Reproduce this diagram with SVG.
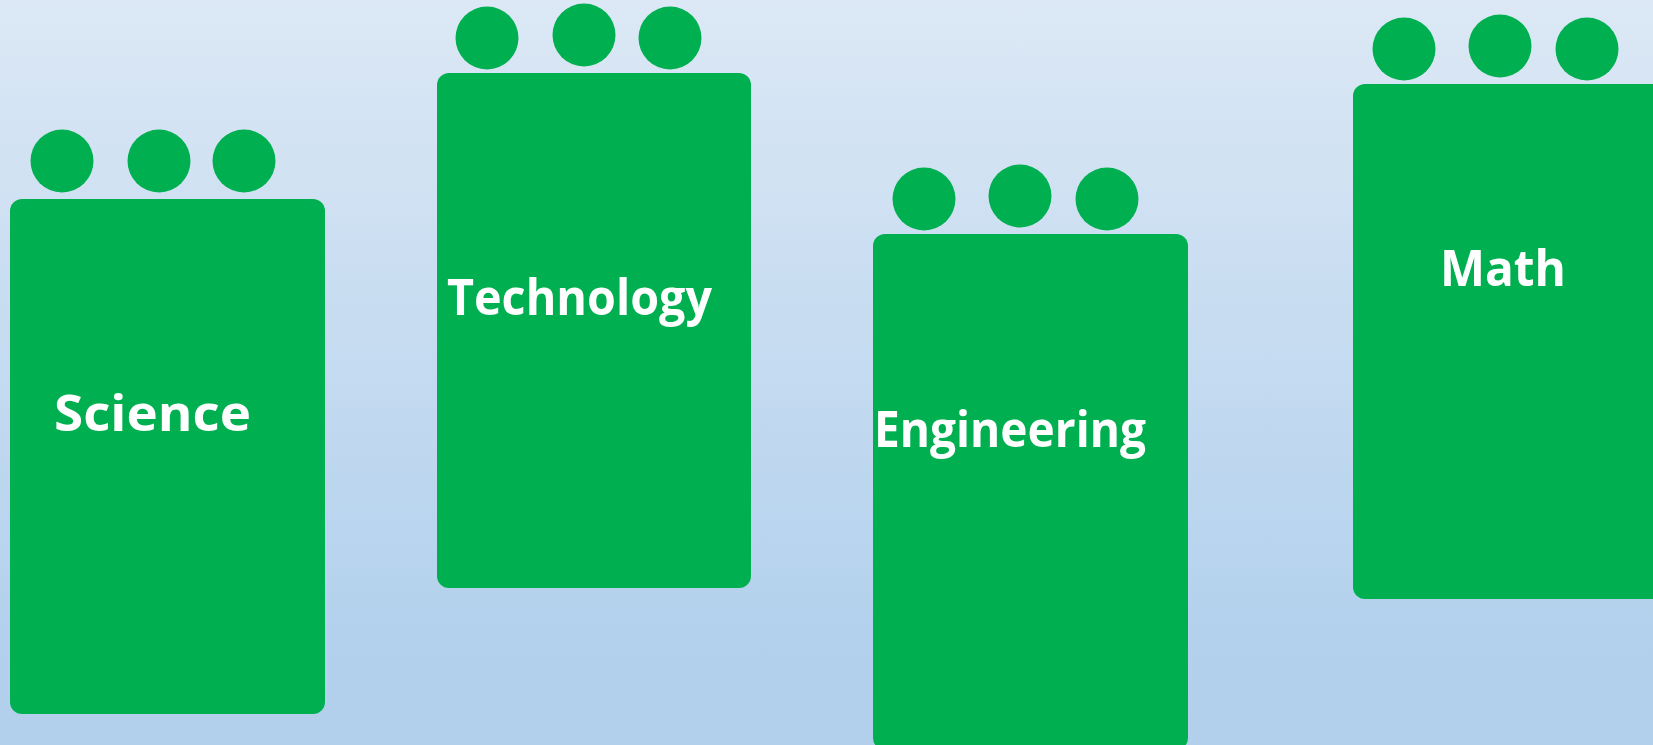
<svg xmlns="http://www.w3.org/2000/svg" width="1653" height="745" viewBox="0 0 1653 745">
<defs>
<linearGradient id="bg" x1="0" y1="0" x2="0" y2="1">
<stop offset="0" stop-color="#dce8f5"/>
<stop offset="0.85" stop-color="#b3d1ed"/>
<stop offset="1" stop-color="#b2d0ec"/>
</linearGradient>
</defs>
<style>
.box{fill:#00b050}
.dot{fill:#00b050}
.lbl{fill:#ffffff;font-family:"Open Sans","Noto Sans","Liberation Sans",sans-serif;font-weight:bold;font-size:51px}
</style>
<rect x="0" y="0" width="1653" height="745" fill="url(#bg)"/>
<g id="connectors"/>
<g id="science">
<rect class="box" x="10" y="199" width="315" height="515" rx="12"/>
<circle class="dot" cx="62" cy="161" r="31.5"/>
<circle class="dot" cx="159" cy="161" r="31.5"/>
<circle class="dot" cx="244" cy="161" r="31.5"/>
<text class="lbl" x="54" y="431" textLength="197" lengthAdjust="spacingAndGlyphs">Science</text>
</g>
<g id="technology">
<rect class="box" x="437" y="73" width="314" height="515" rx="12"/>
<circle class="dot" cx="487" cy="38" r="31.5"/>
<circle class="dot" cx="584" cy="35" r="31.5"/>
<circle class="dot" cx="670" cy="38" r="31.5"/>
<text class="lbl" x="447" y="315" textLength="265" lengthAdjust="spacingAndGlyphs">Technology</text>
</g>
<g id="engineering">
<rect class="box" x="873" y="234" width="315" height="516" rx="12"/>
<circle class="dot" cx="924" cy="199" r="31.5"/>
<circle class="dot" cx="1020" cy="196" r="31.5"/>
<circle class="dot" cx="1107" cy="199" r="31.5"/>
<text class="lbl" x="874" y="447" textLength="272" lengthAdjust="spacingAndGlyphs">Engineering</text>
</g>
<g id="math">
<rect class="box" x="1353" y="84" width="315" height="515" rx="12"/>
<circle class="dot" cx="1404" cy="49" r="31.5"/>
<circle class="dot" cx="1500" cy="46" r="31.5"/>
<circle class="dot" cx="1587" cy="49" r="31.5"/>
<text class="lbl" x="1440" y="286" textLength="126" lengthAdjust="spacingAndGlyphs">Math</text>
</g>
</svg>
